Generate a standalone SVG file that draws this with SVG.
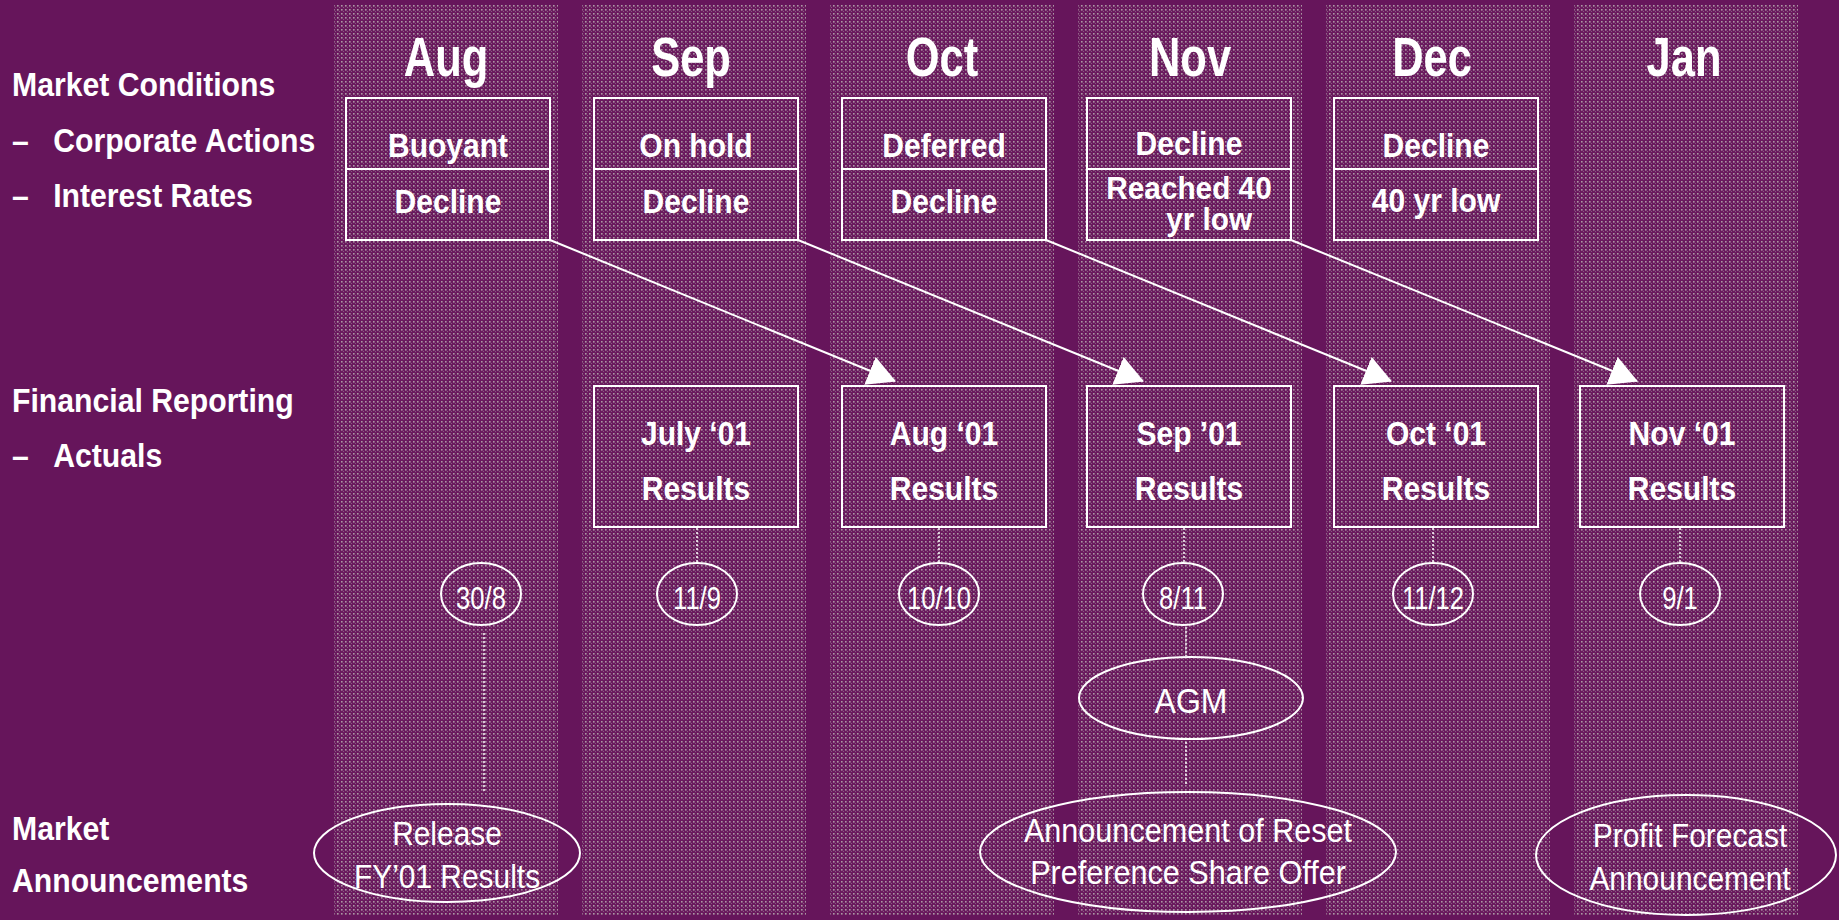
<svg xmlns="http://www.w3.org/2000/svg" width="1839" height="920" viewBox="0 0 1839 920">
<defs>
<pattern id="dots" patternUnits="userSpaceOnUse" width="4" height="4">
<rect width="4" height="4" fill="#6a1a5e"/>
<rect x="1" y="1" width="1.6" height="1.6" fill="#ab97a3"/>
<rect x="3" y="3" width="1" height="1" fill="#87587e"/>
</pattern>
<marker id="ah" viewBox="0 0 28 30" markerWidth="28" markerHeight="30" refX="27" refY="15" orient="auto" markerUnits="userSpaceOnUse">
<path d="M0,0 L28,15 L0,30 z" fill="#fff"/>
</marker>
</defs>
<style>
text{fill:#fff;font-family:"Liberation Sans",Arial,sans-serif}
.lab{font-size:33px;font-weight:bold}
.mon{font-size:55px;font-weight:bold;text-anchor:middle}
.bx{font-size:33px;font-weight:bold;text-anchor:middle}
.tight{font-size:31px}
.dt{font-size:32px;text-anchor:middle}
.el{font-size:34px;text-anchor:middle}
.col{fill:url(#dots)}
.box{fill:none;stroke:#fff;stroke-width:2}
.ov{fill:none;stroke:#fff;stroke-width:2}
.dot{stroke:#fff;stroke-width:1.5;stroke-dasharray:2 2;fill:none}
.arr{stroke:#fff;stroke-width:2;fill:none;marker-end:url(#ah)}
</style>
<rect width="1839" height="920" fill="#66155b"/>
<g id="columns">
<rect class="col" x="334" y="5" width="224" height="910"/>
<rect class="col" x="582" y="5" width="224" height="910"/>
<rect class="col" x="830" y="5" width="224" height="910"/>
<rect class="col" x="1078" y="5" width="224" height="910"/>
<rect class="col" x="1326" y="5" width="224" height="910"/>
<rect class="col" x="1574" y="5" width="224" height="910"/>
</g>
<g id="row-labels">
<text class="lab" transform="translate(12,96) scale(0.915,1)">Market Conditions</text>
<text class="lab" transform="translate(12,152) scale(0.915,1)">–<tspan x="45">Corporate Actions</tspan></text>
<text class="lab" transform="translate(12,207) scale(0.915,1)">–<tspan x="45">Interest Rates</tspan></text>
<text class="lab" transform="translate(12,412) scale(0.915,1)">Financial Reporting</text>
<text class="lab" transform="translate(12,467) scale(0.915,1)">–<tspan x="45">Actuals</tspan></text>
<text class="lab" transform="translate(12,840) scale(0.915,1)">Market</text>
<text class="lab" transform="translate(12,892) scale(0.915,1)">Announcements</text>
</g>
<g id="months">
<text class="mon" transform="translate(446,76) scale(0.79,1)">Aug</text>
<text class="mon" transform="translate(691,76) scale(0.79,1)">Sep</text>
<text class="mon" transform="translate(942,76) scale(0.79,1)">Oct</text>
<text class="mon" transform="translate(1190,76) scale(0.79,1)">Nov</text>
<text class="mon" transform="translate(1432,76) scale(0.79,1)">Dec</text>
<text class="mon" transform="translate(1684,76) scale(0.79,1)">Jan</text>
</g>
<g id="conditions-aug">
<rect class="box" x="346" y="98" width="204" height="142"/>
<line class="box" x1="346" y1="169" x2="550" y2="169"/>
<text class="bx" transform="translate(448,157) scale(0.91,1)">Buoyant</text>
<text class="bx" transform="translate(448,213) scale(0.91,1)">Decline</text>
</g>
<g id="conditions-sep">
<rect class="box" x="594" y="98" width="204" height="142"/>
<line class="box" x1="594" y1="169" x2="798" y2="169"/>
<text class="bx" transform="translate(696,157) scale(0.91,1)">On hold</text>
<text class="bx" transform="translate(696,213) scale(0.91,1)">Decline</text>
</g>
<g id="conditions-oct">
<rect class="box" x="842" y="98" width="204" height="142"/>
<line class="box" x1="842" y1="169" x2="1046" y2="169"/>
<text class="bx" transform="translate(944,157) scale(0.91,1)">Deferred</text>
<text class="bx" transform="translate(944,213) scale(0.91,1)">Decline</text>
</g>
<g id="conditions-nov">
<rect class="box" x="1087" y="98" width="204" height="142"/>
<line class="box" x1="1087" y1="169" x2="1291" y2="169"/>
<text class="bx" transform="translate(1189,155) scale(0.91,1)">Decline</text>
<text class="bx tight" transform="translate(1189,199) scale(0.96,1)"><tspan x="0" y="0">Reached 40</tspan><tspan x="21" y="31">yr low</tspan></text>
</g>
<g id="conditions-dec">
<rect class="box" x="1334" y="98" width="204" height="142"/>
<line class="box" x1="1334" y1="169" x2="1538" y2="169"/>
<text class="bx" transform="translate(1436,157) scale(0.91,1)">Decline</text>
<text class="bx" transform="translate(1436,212) scale(0.91,1)">40 yr low</text>
</g>
<g id="results-jul">
<rect class="box" x="594" y="386" width="204" height="141"/>
<text class="bx" transform="translate(696,445) scale(0.91,1)">July ‘01</text>
<text class="bx" transform="translate(696,500) scale(0.91,1)">Results</text>
</g>
<g id="results-aug">
<rect class="box" x="842" y="386" width="204" height="141"/>
<text class="bx" transform="translate(944,445) scale(0.91,1)">Aug ‘01</text>
<text class="bx" transform="translate(944,500) scale(0.91,1)">Results</text>
</g>
<g id="results-sep">
<rect class="box" x="1087" y="386" width="204" height="141"/>
<text class="bx" transform="translate(1189,445) scale(0.91,1)">Sep ’01</text>
<text class="bx" transform="translate(1189,500) scale(0.91,1)">Results</text>
</g>
<g id="results-oct">
<rect class="box" x="1334" y="386" width="204" height="141"/>
<text class="bx" transform="translate(1436,445) scale(0.91,1)">Oct ‘01</text>
<text class="bx" transform="translate(1436,500) scale(0.91,1)">Results</text>
</g>
<g id="results-nov">
<rect class="box" x="1580" y="386" width="204" height="141"/>
<text class="bx" transform="translate(1682,445) scale(0.91,1)">Nov ‘01</text>
<text class="bx" transform="translate(1682,500) scale(0.91,1)">Results</text>
</g>
<g id="connectors">
<line class="arr" x1="550" y1="240" x2="895" y2="381"/>
<line class="arr" x1="798" y1="240" x2="1143" y2="381"/>
<line class="arr" x1="1046" y1="240" x2="1391" y2="381"/>
<line class="arr" x1="1291" y1="240" x2="1637" y2="381"/>
<line class="dot" x1="697" y1="528" x2="697" y2="563"/>
<line class="dot" x1="939" y1="528" x2="939" y2="563"/>
<line class="dot" x1="1184" y1="528" x2="1184" y2="563"/>
<line class="dot" x1="1433" y1="528" x2="1433" y2="563"/>
<line class="dot" x1="1680" y1="528" x2="1680" y2="563"/>
<line class="dot" x1="484" y1="633" x2="484" y2="793"/>
<line class="dot" x1="1186" y1="627" x2="1186" y2="656"/>
<line class="dot" x1="1186" y1="742" x2="1186" y2="786"/>
</g>
<g id="date-3008">
<ellipse class="ov" cx="481" cy="594" rx="40" ry="31"/>
<text class="dt" transform="translate(481,609) scale(0.8,1)">30/8</text>
</g>
<g id="date-119">
<ellipse class="ov" cx="697" cy="594" rx="40" ry="31"/>
<text class="dt" transform="translate(697,609) scale(0.8,1)">11/9</text>
</g>
<g id="date-1010">
<ellipse class="ov" cx="939" cy="594" rx="40" ry="31"/>
<text class="dt" transform="translate(939,609) scale(0.8,1)">10/10</text>
</g>
<g id="date-811">
<ellipse class="ov" cx="1183" cy="594" rx="40" ry="31"/>
<text class="dt" transform="translate(1183,609) scale(0.8,1)">8/11</text>
</g>
<g id="date-1112">
<ellipse class="ov" cx="1433" cy="594" rx="40" ry="31"/>
<text class="dt" transform="translate(1433,609) scale(0.8,1)">11/12</text>
</g>
<g id="date-91">
<ellipse class="ov" cx="1680" cy="594" rx="40" ry="31"/>
<text class="dt" transform="translate(1680,609) scale(0.8,1)">9/1</text>
</g>
<g id="agm">
<ellipse class="ov" cx="1191" cy="698" rx="112" ry="41"/>
<text class="el" style="font-size:36px" transform="translate(1191,713) scale(0.89,1)">AGM</text>
</g>
<g id="release-fy01">
<ellipse class="ov" cx="447" cy="853" rx="133" ry="49"/>
<text class="el" transform="translate(447,845) scale(0.88,1)">Release</text>
<text class="el" transform="translate(447,888) scale(0.88,1)">FY’01 Results</text>
</g>
<g id="reset-pref">
<ellipse class="ov" cx="1188" cy="852" rx="208" ry="60"/>
<text class="el" transform="translate(1188,842) scale(0.9,1)">Announcement of Reset</text>
<text class="el" transform="translate(1188,884) scale(0.9,1)">Preference Share Offer</text>
</g>
<g id="profit-forecast">
<ellipse class="ov" cx="1686" cy="855" rx="150" ry="60"/>
<text class="el" transform="translate(1690,847) scale(0.88,1)">Profit Forecast</text>
<text class="el" transform="translate(1690,890) scale(0.88,1)">Announcement</text>
</g>
</svg>
